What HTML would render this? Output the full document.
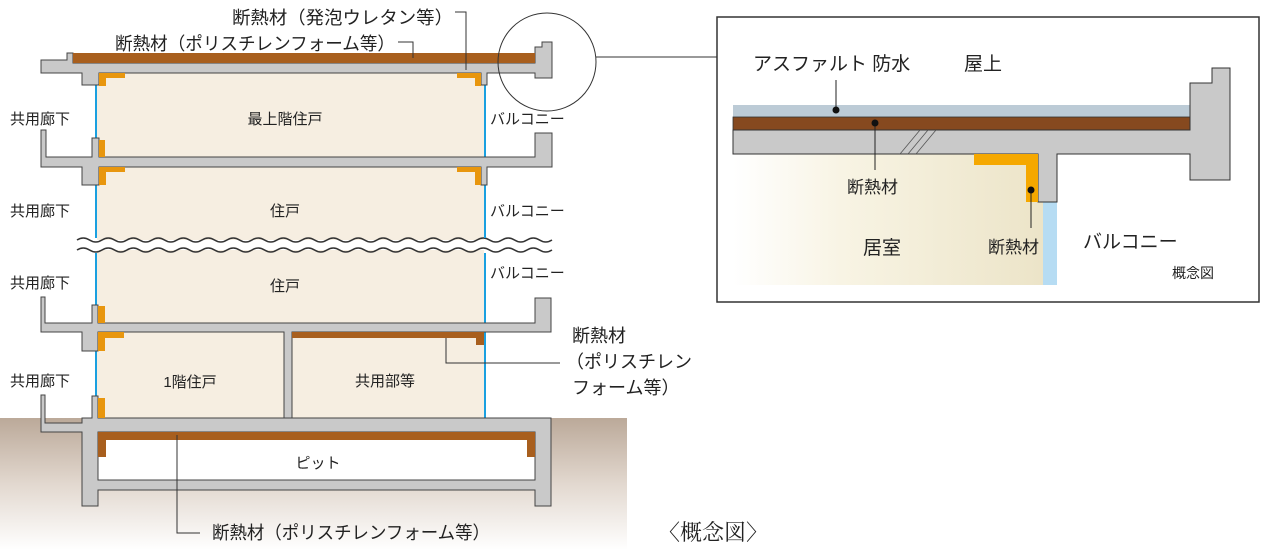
<!DOCTYPE html>
<html><head><meta charset="utf-8"><style>
html,body{margin:0;padding:0;background:#fff;width:1280px;height:550px;overflow:hidden}
svg{display:block}
text{font-family:"Liberation Sans","Noto Sans CJK JP",sans-serif;fill:#222}
</style></head><body>
<svg width="1280" height="550" viewBox="0 0 1280 550" xmlns="http://www.w3.org/2000/svg">
<defs>
<linearGradient id="gnd" x1="0" y1="0" x2="0" y2="1"><stop offset="0" stop-color="#bba999"/><stop offset="0.5" stop-color="#e2d8cf"/><stop offset="1" stop-color="#ffffff"/></linearGradient>
<linearGradient id="room" x1="0" y1="0" x2="1" y2="0"><stop offset="0" stop-color="#ffffff"/><stop offset="0.35" stop-color="#f8f4e4"/><stop offset="1" stop-color="#ece4c8"/></linearGradient>
</defs>
<rect x="0" y="418" width="627" height="132" fill="url(#gnd)"/>
<rect x="97" y="73" width="387" height="345" fill="#f6eee1"/>
<rect x="98" y="432" width="437" height="48" fill="#fff"/>
<g stroke="#333" stroke-width="1.6" fill="none">
<path d="M77,250 L557,250 L557,240 L77,240Z" fill="#fff" stroke="none"/>
<path d="M77,240 q6.25,-4 12.5,0 t12.5,0 t12.5,0 t12.5,0 t12.5,0 t12.5,0 t12.5,0 t12.5,0 t12.5,0 t12.5,0 t12.5,0 t12.5,0 t12.5,0 t12.5,0 t12.5,0 t12.5,0 t12.5,0 t12.5,0 t12.5,0 t12.5,0 t12.5,0 t12.5,0 t12.5,0 t12.5,0 t12.5,0 t12.5,0 t12.5,0 t12.5,0 t12.5,0 t12.5,0 t12.5,0 t12.5,0 t12.5,0 t12.5,0 t12.5,0 t12.5,0 t12.5,0 t12.5,0"/>
<path d="M77,250 q6.25,-4 12.5,0 t12.5,0 t12.5,0 t12.5,0 t12.5,0 t12.5,0 t12.5,0 t12.5,0 t12.5,0 t12.5,0 t12.5,0 t12.5,0 t12.5,0 t12.5,0 t12.5,0 t12.5,0 t12.5,0 t12.5,0 t12.5,0 t12.5,0 t12.5,0 t12.5,0 t12.5,0 t12.5,0 t12.5,0 t12.5,0 t12.5,0 t12.5,0 t12.5,0 t12.5,0 t12.5,0 t12.5,0 t12.5,0 t12.5,0 t12.5,0 t12.5,0 t12.5,0 t12.5,0"/>
</g>
<g stroke="#1aa0e0" stroke-width="2">
<line x1="96" y1="85" x2="96" y2="238"/><line x1="96" y1="253" x2="96" y2="418"/>
<line x1="485" y1="85" x2="485" y2="238"/><line x1="485" y1="253" x2="485" y2="418"/>
</g>
<g fill="#c9c9c9" stroke="#444" stroke-width="1">
<path d="M41,60 L67,60 L67,53 L73,53 L73,63 L535,63 L535,47 L542,47 L542,42 L552,42 L552,78 L535,78 L535,73 L487,73 L487,85 L481,85 L481,73 L99,73 L99,85 L82,85 L82,73 L41,73Z"/>
<path d="M41,130 L46,130 L46,157 L82,157 L92,157 L92,138 L99,138 L99,157 L535,157 L535,133 L552,133 L552,167 L487,167 L487,185 L481,185 L481,167 L99,167 L99,185 L82,185 L82,167 L41,167Z"/>
<path d="M41,297 L45,297 L45,323 L92,323 L92,305 L98,305 L98,323 L535,323 L535,298 L551,298 L551,332 L292,332 L292,418 L284,418 L284,332 L98,332 L98,351 L82,351 L82,332 L41,332Z"/>
<path d="M41,395 L45,395 L45,423 L82,423 L82,418 L92,418 L92,396 L98,396 L98,418 L551,418 L551,506 L535,506 L535,490 L98,490 L98,506 L82,506 L82,432 L41,432Z"/>
<path d="M98,432 L535,432 L535,480 L98,480Z" fill="#fff"/>
</g>
<g fill="#a85f1e">
<rect x="73" y="53" width="462" height="10"/>
<path d="M292,332 L484,332 L484,345 L476,345 L476,338 L292,338Z"/>
<path d="M98,432 L535,432 L535,457 L527,457 L527,440 L106,440 L106,457 L98,457Z"/>
</g>
<g fill="#e8960e">
<path d="M99,73 L125,73 L125,78 L106,78 L106,86 L99,86Z"/>
<path d="M457,73 L481,73 L481,86 L475,86 L475,78 L457,78Z"/>
<rect x="99" y="140" width="6" height="17"/>
<path d="M99,167 L125,167 L125,172 L106,172 L106,185 L99,185Z"/>
<path d="M457,167 L481,167 L481,185 L475,185 L475,172 L457,172Z"/>
<rect x="98" y="306" width="7" height="17"/>
<path d="M98,332 L124,332 L124,338 L105,338 L105,351 L98,351Z"/>
<rect x="98" y="398" width="7" height="20"/>
</g>
<g stroke="#333" stroke-width="1" fill="none">
<polyline points="455,12 466,12 466,70"/>
<polyline points="398,42 413,42 413,58"/>
<polyline points="446,338 446,363 560,363"/>
<polyline points="177,435 177,533 200,533"/>
<circle cx="547" cy="62" r="49"/>
<line x1="596" y1="57" x2="717" y2="57"/>
</g>
<g font-size="18">
<text x="232" y="24" textLength="221" lengthAdjust="spacingAndGlyphs">断熱材（発泡ウレタン等）</text>
<text x="115" y="50" textLength="280" lengthAdjust="spacingAndGlyphs">断熱材（ポリスチレンフォーム等）</text>
<text x="212" y="539" textLength="278" lengthAdjust="spacingAndGlyphs">断熱材（ポリスチレンフォーム等）</text>
<text x="572" y="342">断熱材</text>
<text x="566" y="368">（ポリスチレン</text>
<text x="572" y="394">フォーム等）</text>
</g>
<g font-size="15">
<text x="10" y="124">共用廊下</text><text x="10" y="216">共用廊下</text><text x="10" y="288">共用廊下</text><text x="10" y="386">共用廊下</text>
<text x="490" y="124">バルコニー</text><text x="490" y="216">バルコニー</text><text x="490" y="278">バルコニー</text>
<text x="285" y="124" text-anchor="middle">最上階住戸</text>
<text x="285" y="216" text-anchor="middle">住戸</text>
<text x="285" y="291" text-anchor="middle">住戸</text>
<text x="190" y="387" text-anchor="middle">1階住戸</text>
<text x="385" y="386" text-anchor="middle">共用部等</text>
<text x="318" y="468" text-anchor="middle">ピット</text>
</g>
<text x="658" y="540" font-size="22" style='font-family:"Liberation Serif","Noto Serif CJK SC",serif'>〈概念図〉</text>
<rect x="717" y="17" width="542" height="285" fill="#fff" stroke="#333" stroke-width="1.5"/>
<rect x="733" y="154" width="310" height="131" fill="url(#room)"/>
<rect x="1043" y="202" width="14" height="83" fill="#b6dcf3"/>
<rect x="733" y="105" width="457" height="12" fill="#bccbd6"/>
<rect x="733" y="117" width="457" height="13" fill="#86491f" stroke="#333" stroke-width="0.8"/>
<path d="M733,130 L1190,130 L1190,83 L1212,83 L1212,68 L1230,68 L1230,180 L1190,180 L1190,154 L1057,154 L1057,202 L1038,202 L1038,154 L733,154Z" fill="#c9c9c9" stroke="#333" stroke-width="1"/>
<path d="M974,154 L1038,154 L1038,202 L1026,202 L1026,165 L974,165Z" fill="#f5a800"/>
<g stroke="#555" stroke-width="0.8"><line x1="900" y1="154" x2="920" y2="130"/><line x1="908" y1="154" x2="928" y2="130"/><line x1="916" y1="154" x2="936" y2="130"/></g>
<g stroke="#222" stroke-width="1"><line x1="836" y1="80" x2="836" y2="110"/><line x1="875" y1="123" x2="875" y2="170"/><line x1="1031" y1="190" x2="1031" y2="228"/></g>
<g fill="#111"><circle cx="836" cy="110" r="3.5"/><circle cx="875" cy="123" r="3.5"/><circle cx="1031" cy="190" r="3.5"/></g>
<g font-size="19">
<text x="753" y="70">アスファルト 防水</text>
<text x="964" y="70">屋上</text>
<text x="847" y="193" font-size="17">断熱材</text>
<text x="863" y="254">居室</text>
<text x="988" y="253" font-size="17">断熱材</text>
<text x="1083" y="248">バルコニー</text>
<text x="1172" y="278" font-size="14">概念図</text>
</g>
</svg>
</body></html>
